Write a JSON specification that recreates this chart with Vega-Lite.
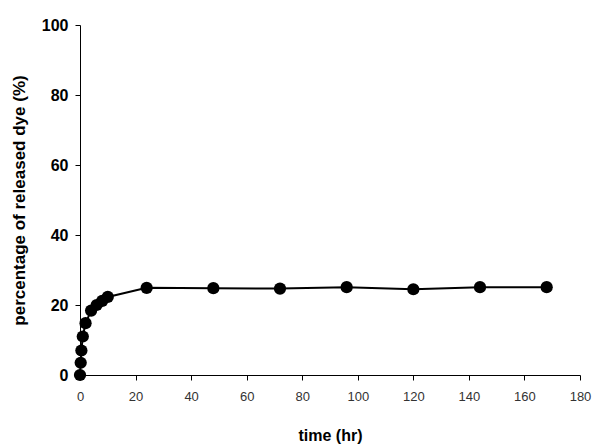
{
  "$schema": "https://vega.github.io/schema/vega-lite/v6.json",
  "autosize": "none",
  "width": 500,
  "height": 350,
  "padding": {"left": 80, "top": 25, "right": 21, "bottom": 71},
  "background": "white",
  "data": {
    "values": [
      {"time": 0, "released": 0},
      {"time": 0.25, "released": 3.5},
      {"time": 0.5, "released": 7},
      {"time": 1, "released": 11},
      {"time": 2, "released": 14.8},
      {"time": 4, "released": 18.4},
      {"time": 6, "released": 20},
      {"time": 8, "released": 21.2},
      {"time": 10, "released": 22.3},
      {"time": 24, "released": 24.9},
      {"time": 48, "released": 24.8},
      {"time": 72, "released": 24.7},
      {"time": 96, "released": 25.1},
      {"time": 120, "released": 24.5},
      {"time": 144, "released": 25.1},
      {"time": 168, "released": 25.1}
    ]
  },
  "config": {
    "view": {"stroke": null},
    "axis": {
      "grid": false,
      "domainColor": "black",
      "tickColor": "black",
      "domainWidth": 1,
      "tickWidth": 1,
      "tickSize": 5,
      "labelFlush": false,
      "labelFont": "Liberation Sans",
      "titleFont": "Liberation Sans",
      "labelColor": "black",
      "titleColor": "black"
    }
  },
  "encoding": {
    "x": {
      "field": "time",
      "type": "quantitative",
      "scale": {"domain": [0, 180], "nice": false, "zero": true},
      "axis": {
        "title": "time (hr)",
        "values": [0, 20, 40, 60, 80, 100, 120, 140, 160, 180],
        "labelFontSize": 13,
        "labelFontWeight": "normal",
        "labelColor": "#333333",
        "labelPadding": 10,
        "titleFontSize": 16,
        "titleFontWeight": "bold",
        "titlePadding": 24
      }
    },
    "y": {
      "field": "released",
      "type": "quantitative",
      "scale": {"domain": [0, 100], "nice": false},
      "axis": {
        "title": "percentage of released dye (%)",
        "values": [0, 20, 40, 60, 80, 100],
        "labelFontSize": 16,
        "labelFontWeight": "bold",
        "labelPadding": 7,
        "titleFontSize": 17,
        "titleFontWeight": "bold",
        "titlePadding": 13
      }
    }
  },
  "layer": [
    {"mark": {"type": "line", "color": "black", "strokeWidth": 2}},
    {"mark": {"type": "point", "filled": true, "color": "black", "opacity": 1, "size": 150}}
  ]
}
